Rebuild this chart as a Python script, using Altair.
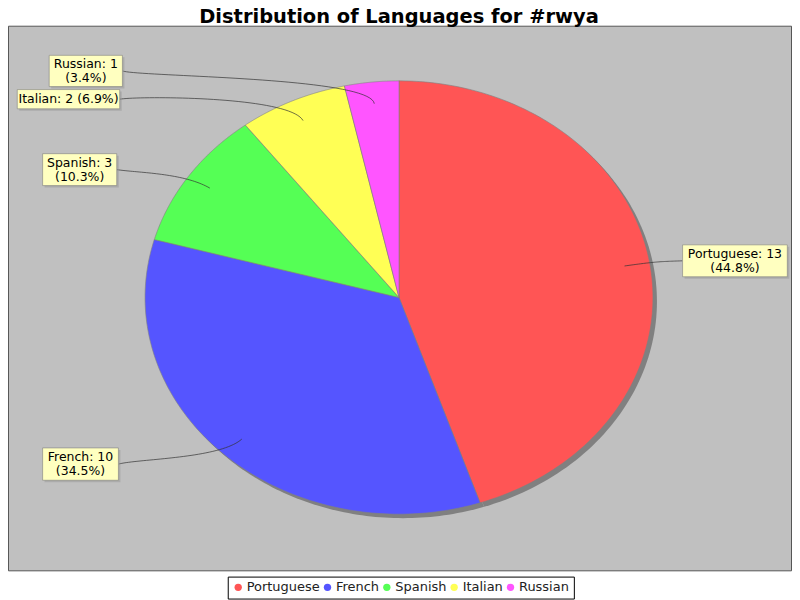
import altair as alt
import pandas as pd

# ---- data ----
title_text = "Distribution of Languages for #rwya"
languages = ["Portuguese", "French", "Spanish", "Italian", "Russian"]
counts = [13, 10, 3, 2, 1]
colors = ["#FF5555", "#5555FF", "#55FF55", "#FFFF55", "#FF55FF"]

# ---- label layout (page pixels) ----
label_x0 = [684.3, 42.7, 42.7, 17.3, 49.3]
label_x1 = [789.3, 118.7, 117.0, 120.0, 122.7]
label_y0 = [244.7, 448.3, 153.3, 89.0, 54.7]
label_y1 = [276.7, 480.7, 185.3, 108.3, 86.0]
label_side = ["right", "left", "left", "left", "left"]
label_sep = ["\n", "\n", "\n", " ", "\n"]

OFF = 8
W, H = 786, 592
CX, CY = 400 - OFF, 297.5 - OFF
RX, RY = 254.6, 217.2
M = 0.025
N = 120
LH = 14

df = pd.DataFrame({
    "lang": languages,
    "value": counts,
    "order": list(range(len(languages))),
    "bx0": [v - OFF for v in label_x0],
    "bx1": [v - OFF for v in label_x1],
    "by0": [v - OFF for v in label_y0],
    "by1": [v - OFF for v in label_y1],
    "side": label_side,
    "sep": label_sep,
})

xs = alt.Scale(domain=[0, W], nice=False, zero=False)
ys = alt.Scale(domain=[0, H], nice=False, zero=False, reverse=True)


def cum(ch):
    return ch.transform_joinaggregate(total="sum(value)").transform_window(
        cum="sum(value)", sort=[alt.SortField("order")], frame=[None, 0]
    )


def pie_points(ch):
    return cum(ch).transform_calculate(
        a0="2*PI*(datum.cum - datum.value)/datum.total",
        a1="2*PI*datum.cum/datum.total",
        k=f"sequence(0, {N + 2})",
    ).transform_flatten(["k"]).transform_calculate(
        ang=f"datum.a0 + (datum.a1 - datum.a0)*(datum.k - 1)/{N}",
        px=f"datum.k == 0 ? {CX} : {CX} + {RX}*sin(datum.ang)",
        py=f"datum.k == 0 ? {CY} : {CY} - {RY}*cos(datum.ang)",
        sx="datum.px + 4",
        sy="datum.py + 4",
    )


base = alt.Chart(df)

bg = alt.Chart(pd.DataFrame({"a": [0]})).mark_rect(
    fill="#C0C0C0", stroke="#555555", strokeWidth=1
).encode(x=alt.value(0.5), x2=alt.value(785.5), y=alt.value(17.5), y2=alt.value(563.5))

shadow = pie_points(base).mark_line(
    filled=True, fill="#808080", strokeWidth=0, interpolate="linear-closed"
).encode(
    x=alt.X("sx:Q", scale=xs, axis=None),
    y=alt.Y("sy:Q", scale=ys, axis=None),
    detail="lang:N",
    order="k:Q",
)

pie = pie_points(base).mark_line(
    filled=True, stroke="#808080", strokeWidth=0.6, interpolate="linear-closed", opacity=1
).encode(
    x=alt.X("px:Q", scale=xs, axis=None),
    y=alt.Y("py:Q", scale=ys, axis=None),
    color=alt.Color(
        "lang:N",
        scale=alt.Scale(domain=languages, range=colors),
        sort=languages,
        legend=alt.Legend(
            orient="none", legendX=220.3, legendY=569.3, direction="horizontal",
            title=None, symbolType="circle", symbolSize=54, symbolStrokeWidth=0,
            symbolOpacity=1,
            labelFont="DejaVu Sans", labelFontSize=13, labelColor="#222222",
            strokeColor="black", fillColor="white", padding=4,
            columnPadding=0.5, labelOffset=2,
        ),
    ),
    order="k:Q",
)

conn = cum(base).transform_calculate(
    mid="PI*(2*datum.cum - datum.value)/datum.total",
    lx=f"{CX} + {RX * 0.9}*sin(datum.mid)",
    ly=f"{CY} - {RY * 0.9}*cos(datum.mid)",
    ex=f"{CX} + {RX * (1 + M)}*sin(datum.mid)",
    ey=f"{CY} - {RY * (1 + M)}*cos(datum.mid)",
    ax=f"datum.side == 'left' ? {CX - RX * (1 + M)} : {CX + RX * (1 + M)}",
    tx="datum.side == 'left' ? datum.bx1 : datum.bx0",
    ty="(datum.by0 + datum.by1)/2",
    t="sequence(0, 41)",
).transform_flatten(["t"]).transform_calculate(
    u="datum.t/40",
).transform_calculate(
    cx="pow(1-datum.u,3)*datum.tx + 3*pow(1-datum.u,2)*datum.u*datum.ax + 3*(1-datum.u)*pow(datum.u,2)*datum.ex + pow(datum.u,3)*datum.lx",
    cy="pow(1-datum.u,3)*datum.ty + 3*pow(1-datum.u,2)*datum.u*datum.ey + 3*(1-datum.u)*pow(datum.u,2)*datum.ey + pow(datum.u,3)*datum.ly",
).mark_line(stroke="#333333", strokeWidth=0.7).encode(
    x=alt.X("cx:Q", scale=xs, axis=None),
    y=alt.Y("cy:Q", scale=ys, axis=None),
    detail="lang:N",
    order="t:Q",
)

box_shadow = base.transform_calculate(
    sx0="datum.bx0 + 2", sx1="datum.bx1 + 2", sy0="datum.by0 + 2", sy1="datum.by1 + 2"
).mark_rect(fill="#969696", opacity=0.5).encode(
    x=alt.X("sx0:Q", scale=xs, axis=None), x2="sx1:Q",
    y=alt.Y("sy0:Q", scale=ys, axis=None), y2="sy1:Q",
)

boxes = base.mark_rect(fill="#FFFFC0", stroke="#808080", strokeWidth=0.6).encode(
    x=alt.X("bx0:Q", scale=xs, axis=None), x2="bx1:Q",
    y=alt.Y("by0:Q", scale=ys, axis=None), y2="by1:Q",
)

texts = cum(base).transform_calculate(
    label="datum.lang + ': ' + datum.value + datum.sep + '(' + format(datum.value/datum.total, '.1%') + ')'",
    mx="(datum.bx0 + datum.bx1)/2",
    my=f"(datum.by0 + datum.by1)/2 - (datum.sep == '\\n' ? {LH / 2} : 0)",
).mark_text(
    font="DejaVu Sans", fontSize=12.5, lineBreak="\n", align="center",
    baseline="middle", lineHeight=LH, color="black",
).encode(
    x=alt.X("mx:Q", scale=xs, axis=None),
    y=alt.Y("my:Q", scale=ys, axis=None),
    text="label:N",
)

title = alt.Chart(pd.DataFrame({"t": [title_text]})).mark_text(
    font="DejaVu Sans", fontSize=19.5, fontWeight="bold", align="center",
    baseline="alphabetic", color="black",
).encode(x=alt.value(392), y=alt.value(14.5), text="t:N")

chart = alt.layer(bg, shadow, pie, conn, box_shadow, boxes, texts, title).properties(
    width=W, height=H, autosize=alt.AutoSizeParams(type="none"), padding=0,
    background="white",
).configure_view(stroke=None)

chart.save("out.html", embed_options={"renderer": "svg", "actions": False})
